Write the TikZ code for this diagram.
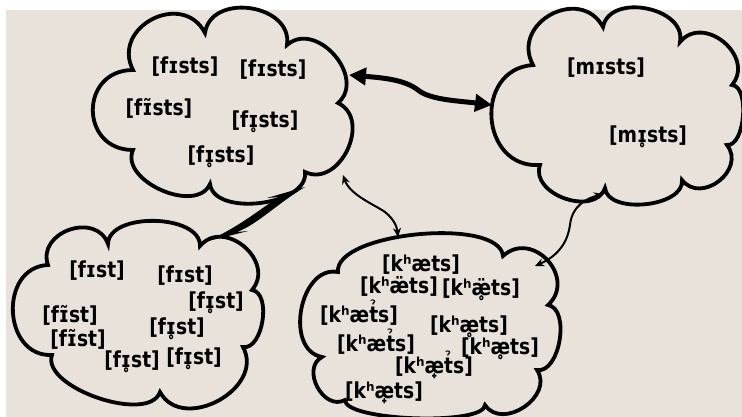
\documentclass[tikz,border=0pt]{standalone}
\usepackage{fontspec}
\newfontfamily\ipafont{DejaVu Sans}[FakeStretch=0.85]
\usetikzlibrary{calc,arrows.meta}
\definecolor{bgbeige}{RGB}{232,226,218}
\begin{document}
\begin{tikzpicture}[x=1pt,y=-1pt,
  cloudline/.style={line width=3.8pt, black},
  ipa/.style={font=\ipafont\bfseries\fontsize{22}{26}\selectfont, inner sep=0pt, text height=16.7pt, text depth=2.9pt},
  thinarrow/.style={line width=2pt, {Stealth[length=9pt,width=8pt]}-{Stealth[length=9pt,width=8pt]}},
  thickarrow/.style={line width=5pt, {Triangle[length=17pt,width=17pt]}-{Triangle[length=17pt,width=17pt]}}]
\fill[white] (0,0) rectangle (742,417);
\fill[bgbeige] (6,10) rectangle (742,417);
\useasboundingbox (0,0) rectangle (742,417);

% cloud A (top left)
\coordinate (a1) at (133,70);
\coordinate (a2) at (205,33);
\coordinate (a3) at (287,45);
\coordinate (a4) at (338,103);
\coordinate (a5) at (305,172);
\coordinate (a6) at (210,184);
\coordinate (a7) at (133,150);
\draw[cloudline] (a1) \foreach \p/\q/\k in {a1/a2/0.6,a2/a3/0.5,a3/a4/0.5,a4/a5/0.5,a5/a6/0.35,a6/a7/0.4,a7/a1/0.67}
  { .. controls ($(\p)!\k!90:(\q)$) and ($(\q)!\k!-90:(\p)$) .. (\q) } -- cycle;

% cloud B (top right)
\coordinate (b1) at (533,65);
\coordinate (b2) at (603,27);
\coordinate (b3) at (680,42);
\coordinate (b4) at (732,85);
\coordinate (b5) at (727,145);
\coordinate (b6) at (682,180);
\coordinate (b7) at (605,188);
\coordinate (b8) at (540,165);
\draw[cloudline] (b1) \foreach \p/\q/\k in {b1/b2/0.6,b2/b3/0.45,b3/b4/0.55,b4/b5/0.3,b5/b6/0.55,b6/b7/0.35,b7/b8/0.45,b8/b1/0.6}
  { .. controls ($(\p)!\k!90:(\q)$) and ($(\q)!\k!-90:(\p)$) .. (\q) } -- cycle;

% cloud C (bottom left)
\coordinate (c1) at (48,265);
\coordinate (c2) at (108,244);
\coordinate (c3) at (200,246);
\coordinate (c4) at (252,290);
\coordinate (c5) at (243,347);
\coordinate (c6) at (160,392);
\coordinate (c7) at (52,355);
\draw[cloudline] (c1) \foreach \p/\q/\k in {c1/c2/0.55,c2/c3/0.35,c3/c4/0.55,c4/c5/0.35,c5/c6/0.5,c6/c7/0.3,c7/c1/0.55}
  { .. controls ($(\p)!\k!90:(\q)$) and ($(\q)!\k!-90:(\p)$) .. (\q) } -- cycle;

% cloud D (bottom middle)
\coordinate (d1) at (338,272);
\coordinate (d2) at (503,256);
\coordinate (d3) at (548,305);
\coordinate (d4) at (537,370);
\coordinate (d5) at (485,405);
\coordinate (d6) at (345,400);
\coordinate (d7) at (322,357);
\draw[cloudline] (d1) \foreach \p/\q/\k in {d1/d2/0.24,d2/d3/0.6,d3/d4/0.35,d4/d5/0.5,d5/d6/0.15,d6/d7/0.5,d7/d1/0.45}
  { .. controls ($(\p)!\k!90:(\q)$) and ($(\q)!\k!-90:(\p)$) .. (\q) } -- cycle;

% texts A
\node[ipa] (t1) at (185,67) {[fɪsts]};
\node[ipa] (t2) at (273,70) {[fɪsts]};
\node[ipa] (t3) at (159,109) {[fɪ̃sts]};
\node[ipa] (t4) at (265,121) {[fɪ̥sts]};
\node[ipa] (t5) at (221,156) {[fɪ̥sts]};
% texts B
\node[ipa] (m1) at (606,68) {[mɪsts]};
\node[ipa] (m2) at (648,136) {[mɪ̥sts]};
% texts C
\node[ipa] (f1) at (97,271) {[fɪst]};
\node[ipa] (f2) at (185,276) {[fɪst]};
\node[ipa] (f3) at (216,302) {[fɪ̥st]};
\node[ipa] (f4) at (70,316) {[fɪ̃st]};
\node[ipa] (f5) at (78,340) {[fɪ̃st]};
\node[ipa] (f6) at (177,328) {[fɪ̥st]};
\node[ipa] (f7) at (132,361) {[fɪ̥st]};
\node[ipa] (f8) at (194,358) {[fɪ̥st]};
% texts D
\node[ipa] (k1) at (421,265) {[kʰæts]};
\node[ipa] (k2) at (399,287) {[kʰæ̈ts]};
\node[ipa] (k3) at (481,289) {[kʰæ̥̈ts]};
\node[ipa] (k4) at (359,316) {[kʰæt̉s]};
\node[ipa] (k5) at (469,326) {[kʰæ̥ts]};
\node[ipa] (k6) at (376,345) {[kʰæt̉s]};
\node[ipa] (k7) at (500,348) {[kʰæ̥ts]};
\node[ipa] (k8) at (434,367) {[kʰæ̟t̉s]};
\node[ipa] (k9) at (384,392) {[kʰæ̟ts]};

% arrows
\coordinate (pA1) at (349,75);
\coordinate (pB1) at (492,105);
\draw[thickarrow] (pA1) .. controls (385,78) and (405,80) .. (418,90) .. controls (430,100) and (460,101) .. (pB1);

\coordinate (pA2) at (343,175);
\coordinate (pD1) at (398,237);
\draw[thinarrow] (pA2) .. controls (350,195) and (375,205) .. (385,212) .. controls (395,220) and (397,228) .. (pD1);

\coordinate (pD2) at (535,266);
\coordinate (pB2) at (603,194);
\draw[thinarrow] (pD2) .. controls (560,255) and (568,240) .. (570,225) .. controls (572,205) and (588,198) .. (pB2);

% swoosh arrow between A and C
\coordinate (sA) at (305,187);
\coordinate (sC) at (208,241);
\fill (sA) -- (267,198) -- (279,197) .. controls (260,209) and (242,225) .. (sC) -- (248,231) -- (237,232) .. controls (258,224) and (278,203) .. (sA) -- cycle;
\end{tikzpicture}
\end{document}
